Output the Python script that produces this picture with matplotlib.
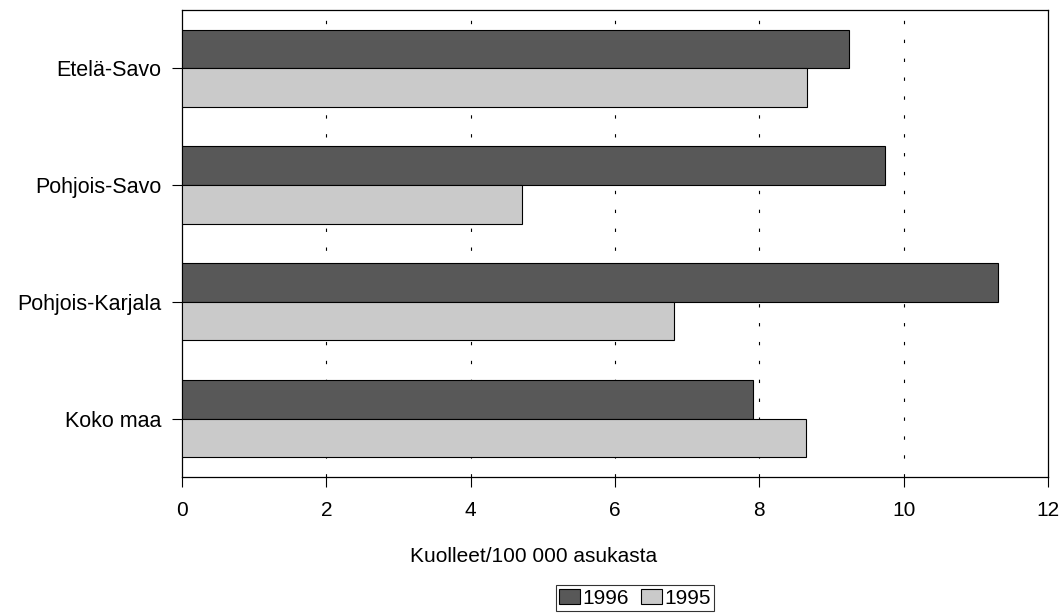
import numpy as np
import matplotlib.pyplot as plt

plt.rcParams['font.family'] = ['Liberation Sans', 'DejaVu Sans']

# data
regions = ["Etelä-Savo", "Pohjois-Savo", "Pohjois-Karjala", "Koko maa"]
v1996 = [9.24, 9.74, 11.31, 7.91]
v1995 = [8.66, 4.71, 6.82, 8.65]
xticks = [0, 2, 4, 6, 8, 10, 12]

fig = plt.figure(figsize=(10.64, 6.13), dpi=100)
ax = fig.add_axes([0.171, 0.222, 0.814, 0.762])

y = np.arange(len(regions))[::-1]
h = 0.33
ax.barh(y + h / 2, v1996, height=h, color='#585858', edgecolor='black', linewidth=0.8, label='1996', zorder=3)
ax.barh(y - h / 2, v1995, height=h, color='#cacaca', edgecolor='black', linewidth=0.8, label='1995', zorder=3)

ax.set_xlim(0, 12)
ax.set_ylim(-0.5, 3.5)
ax.set_xticks(xticks)
ax.set_yticks(y)
ax.set_yticklabels(regions)
ax.tick_params(axis='y', labelsize=15.5, direction='out', length=7, width=0.8, pad=8)
ax.tick_params(axis='x', labelsize=15, direction='out', length=7, width=0.8, pad=10)
for x in xticks[1:-1]:
    ax.axvline(x, color='black', linestyle=(0, (3, 14)), linewidth=0.8, zorder=1)
for s in ax.spines.values():
    s.set_linewidth(0.9)

fig.text(534 / 1064, 1 - 557 / 613, "Kuolleet/100 000 asukasta", fontsize=15, ha='center', va='center')
leg = fig.legend(loc='center', bbox_to_anchor=(635 / 1064, 1 - 598 / 613), ncol=2, fontsize=15,
                 frameon=True, fancybox=False, edgecolor='black', handlelength=1.0, handleheight=0.75,
                 handletextpad=0.1, columnspacing=0.6, borderpad=0.15)
leg.get_frame().set_linewidth(0.8)

fig.savefig("out.png", dpi=100)
